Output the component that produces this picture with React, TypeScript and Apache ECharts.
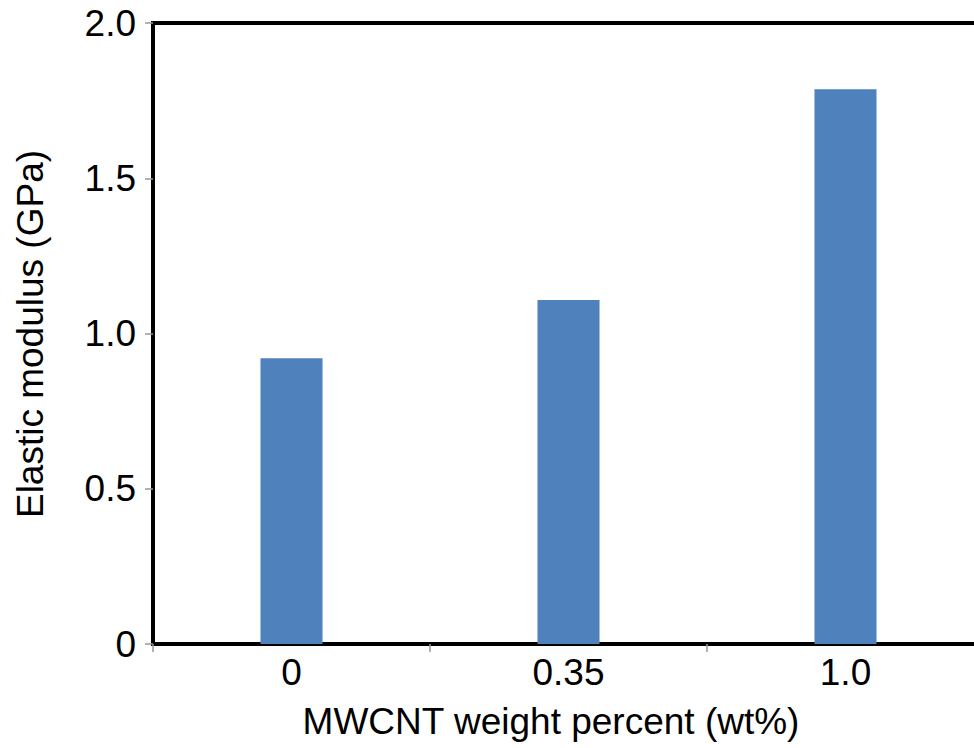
import React, { useEffect, useRef } from "react";
import * as echarts from "echarts";

const categories = ["0", "0.35", "1.0"];
const modulusValues = [0.92, 1.108, 1.787];
const yTicks = [0, 0.5, 1.0, 1.5, 2.0];
const xTitle = "MWCNT weight percent (wt%)";
const yTitle = "Elastic modulus (GPa)";

export default function App() {
  const ref = useRef<HTMLDivElement>(null);
  useEffect(() => {
    if (!ref.current) return;
    const chart = echarts.init(ref.current, null, { renderer: "svg" });
    const font = "'Liberation Sans', Arial, sans-serif";
    chart.setOption({
      animation: false,
      backgroundColor: "#ffffff",
      grid: {
        left: 153,
        top: 23,
        width: 831,
        height: 621,
        show: true,
        borderColor: "#000",
        borderWidth: 4,
        containLabel: false,
      },
      xAxis: {
        type: "category",
        data: categories,
        boundaryGap: true,
        axisLine: { show: true, lineStyle: { color: "#000", width: 4 } },
        axisTick: { show: true, inside: false, length: 8, lineStyle: { color: "#999", width: 1.5 } },
        axisLabel: { fontSize: 37, color: "#000", fontFamily: font, margin: 10 },
        splitLine: { show: false },
      },
      yAxis: {
        type: "value",
        min: yTicks[0],
        max: yTicks[yTicks.length - 1],
        interval: 0.5,
        axisLine: { show: true, lineStyle: { color: "#000", width: 4 } },
        axisTick: { show: true, inside: false, length: 8, lineStyle: { color: "#999", width: 1.5 } },
        axisLabel: {
          fontSize: 37,
          color: "#000",
          fontFamily: font,
          margin: 17,
          formatter: (v: number) => (v === 0 ? "0" : v.toFixed(1)),
        },
        splitLine: { show: false },
      },
      series: [
        {
          type: "bar",
          data: modulusValues,
          barWidth: "22.4%",
          itemStyle: { color: "#4F81BD" },
        },
      ],
      graphic: [
        {
          type: "text",
          x: 551,
          y: 721,
          style: {
            text: xTitle,
            font: `37px ${font}`,
            fill: "#000",
            align: "center",
            verticalAlign: "middle",
          },
        },
        {
          type: "text",
          x: 30,
          y: 334,
          rotation: Math.PI / 2,
          style: {
            text: yTitle,
            font: `37px ${font}`,
            fill: "#000",
            align: "center",
            verticalAlign: "middle",
          },
        },
      ],
    });
    return () => chart.dispose();
  }, []);
  return (
    <div
      style={{
        position: "fixed",
        left: 0,
        top: 0,
        width: 974,
        height: 748,
        overflow: "hidden",
        background: "#fff",
      }}
    >
      <div ref={ref} style={{ width: 1000, height: 748 }} />
    </div>
  );
}
